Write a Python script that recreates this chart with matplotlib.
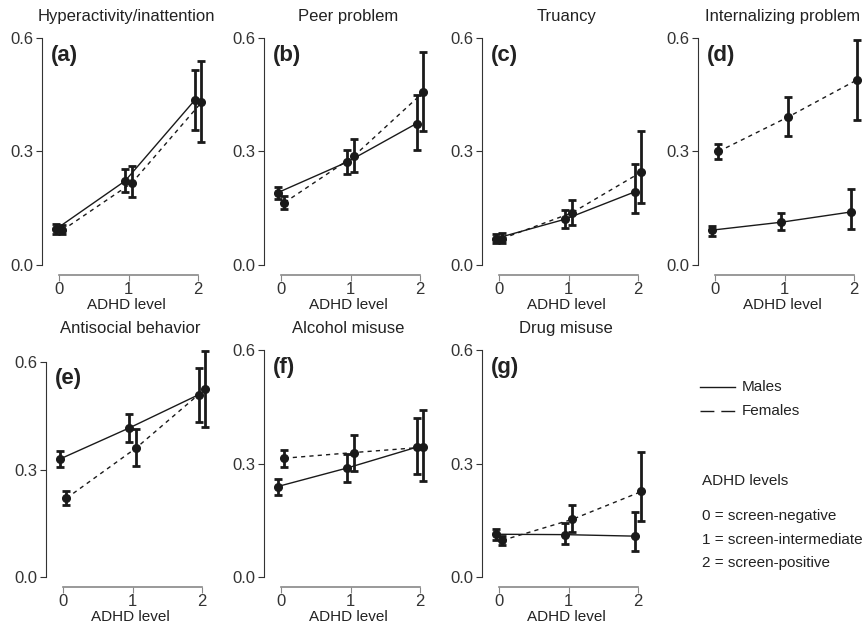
import numpy as np
import matplotlib
matplotlib.use("Agg")
import matplotlib.pyplot as plt
from matplotlib.lines import Line2D

plt.rcParams['font.family'] = ['Liberation Sans', 'DejaVu Sans']

# Panel titles and labels
titles = ["Hyperactivity/inattention", "Peer problem", "Truancy", "Internalizing problem",
          "Antisocial behavior", "Alcohol misuse", "Drug misuse"]
tags = ["(a)", "(b)", "(c)", "(d)", "(e)", "(f)", "(g)"]
levels = np.array([0, 1, 2])

# Estimated proportions (point, lower, upper) per panel, males then females
male_est = [[0.094, 0.222, 0.435], [0.191, 0.272, 0.374], [0.070, 0.121, 0.193],
            [0.092, 0.113, 0.140], [0.329, 0.416, 0.509], [0.239, 0.288, 0.343],
            [0.113, 0.112, 0.108]]
male_lo = [[0.081, 0.193, 0.358], [0.175, 0.241, 0.303], [0.059, 0.098, 0.138],
           [0.077, 0.092, 0.096], [0.307, 0.377, 0.433], [0.217, 0.252, 0.273],
           [0.099, 0.087, 0.069]]
male_hi = [[0.109, 0.254, 0.515], [0.207, 0.305, 0.450], [0.083, 0.145, 0.268],
           [0.103, 0.137, 0.200], [0.351, 0.456, 0.584], [0.259, 0.326, 0.420],
           [0.127, 0.142, 0.171]]
female_est = [[0.092, 0.217, 0.430], [0.165, 0.288, 0.457], [0.070, 0.138, 0.246],
              [0.300, 0.391, 0.490], [0.220, 0.360, 0.526], [0.314, 0.329, 0.343],
              [0.097, 0.152, 0.226]]
female_lo = [[0.081, 0.179, 0.325], [0.147, 0.245, 0.354], [0.059, 0.107, 0.165],
             [0.279, 0.340, 0.383], [0.200, 0.310, 0.419], [0.292, 0.281, 0.255],
             [0.084, 0.118, 0.149]]
female_hi = [[0.106, 0.261, 0.540], [0.182, 0.334, 0.563], [0.085, 0.173, 0.353],
             [0.321, 0.443, 0.596], [0.240, 0.413, 0.631], [0.336, 0.376, 0.442],
             [0.109, 0.190, 0.330]]
ytop = [0.6, 0.6, 0.6, 0.6, 0.634, 0.6, 0.6]

W, H = 865, 628
fig = plt.figure(figsize=(W / 100, H / 100), dpi=100)

# pixel layout: y-axis x position, y pixel of value 0
lefts = [42, 264, 482, 698, 46, 264, 482]
zeros = [265, 265, 265, 265, 577, 577, 577]
xscale = 69.5
yscale = 227 / 0.6
x_off = 17

def draw_panel(ax, i):
    xm = levels - 0.05
    xf = levels + 0.05
    me = np.array(male_est[i])
    fe = np.array(female_est[i])
    ax.plot(xm, me, color='#1a1a1a', lw=1.0)
    ax.plot(xf, fe, color='#1a1a1a', lw=1.0, ls=(0, (3, 3)))
    ax.errorbar(xm, me, yerr=[me - np.array(male_lo[i]), np.array(male_hi[i]) - me],
                fmt='o', color='#1a1a1a', ms=5.5, elinewidth=2, capsize=3, capthick=2)
    ax.errorbar(xf, fe, yerr=[fe - np.array(female_lo[i]), np.array(female_hi[i]) - fe],
                fmt='o', color='#1a1a1a', ms=5.5, elinewidth=2, capsize=3, capthick=2)

    ax.set_ylim(0, ytop[i])
    ax.set_yticks([0.0, 0.3, 0.6])
    ax.set_yticklabels(["0.0", "0.3", "0.6"])
    ax.set_xticks(levels)
    ax.set_xlabel("ADHD level", fontsize=11, color='#222222', labelpad=1)
    ax.set_title(titles[i], fontsize=12, color='#222222', pad=12)
    ax.text(-0.12, 0.555, tags[i], fontsize=16, fontweight='bold', color='#222222',
            va='center', ha='left')

    for s in ['top', 'right']:
        ax.spines[s].set_visible(False)
    ax.spines['left'].set_bounds(0, 0.6)
    ax.spines['left'].set_color('#333333')
    ax.spines['bottom'].set_bounds(0, 2)
    ax.spines['bottom'].set_color('#888888')
    ax.spines['bottom'].set_position(('outward', 7))
    ax.spines['bottom'].set_linewidth(1.2)
    ax.tick_params(axis='y', colors='#333333', labelcolor='#333333', labelsize=12,
                   length=4, pad=2)
    ax.tick_params(axis='x', colors='#888888', labelcolor='#333333', labelsize=12,
                   length=4, pad=1)
    ax.patch.set_visible(False)

for i in range(7):
    x0 = -x_off / xscale
    x1 = 2.18
    width = (x1 - x0) * xscale
    height = ytop[i] * yscale
    if i == 4:
        height = 227
    ax = fig.add_axes([lefts[i] / W, (H - zeros[i]) / H, width / W, height / H])
    ax.set_xlim(x0, x1)
    draw_panel(ax, i)

# legend area
fig.add_artist(Line2D([700 / W, 735 / W], [1 - 387 / H, 1 - 387 / H], color='#1a1a1a', lw=1))
fig.add_artist(Line2D([700 / W, 735 / W], [1 - 411 / H, 1 - 411 / H], color='#1a1a1a', lw=1,
                      ls=(0, (10, 5))))
fig.text(742 / W, 1 - 387 / H, "Males", fontsize=11, color='#222222', va='center')
fig.text(742 / W, 1 - 411 / H, "Females", fontsize=11, color='#222222', va='center')
fig.text(702 / W, 1 - 481 / H, "ADHD levels", fontsize=11, color='#222222', va='center')
key_lines = ["0 = screen-negative", "1 = screen-intermediate", "2 = screen-positive"]
for k, (txt, yy) in enumerate(zip(key_lines, [516, 540, 563])):
    fig.text(702 / W, 1 - yy / H, txt, fontsize=11, color='#222222', va='center')

fig.savefig("out.png", dpi=100)
